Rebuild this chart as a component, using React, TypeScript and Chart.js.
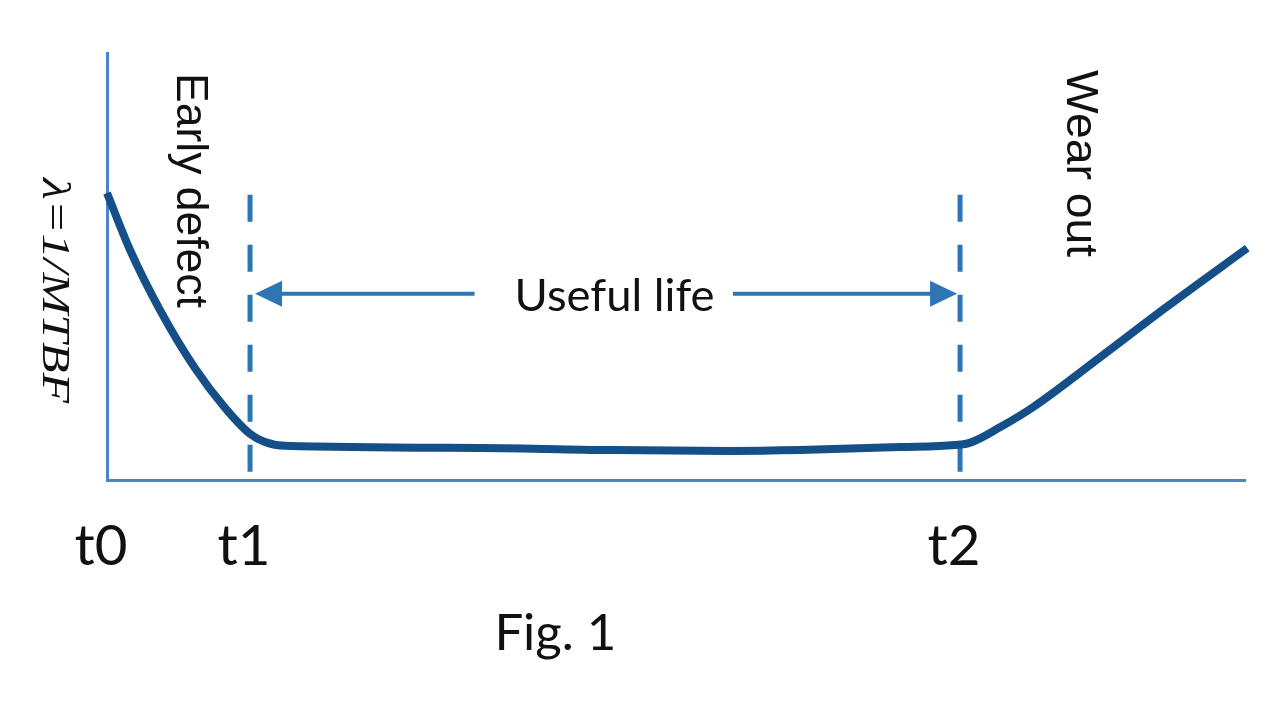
import React, { useEffect, useRef } from "react";
import { Chart, registerables } from "chart.js";

Chart.register(...registerables);

// ---- data ----
const TIME_VALUES = [0, 2.02, 4.66, 7.73, 10.37, 12.57, 13.88, 15.64, 32.8, 44.6, 54.7, 60.9, 69.7, 74.5, 75.8, 78.5, 81.4, 87.3, 93.1, 100.2];
const FAILURE_RATE = [67.2, 53.9, 39.8, 26.2, 16.9, 10.8, 8.9, 8.0, 7.5, 7.0, 6.8, 7.0, 7.7, 8.2, 8.7, 12.4, 17.1, 28.8, 40.5, 54.3];
const PHASE_TIMES = [0, 12.57, 74.96];
const PHASE_LABELS = ["t0", "t1", "t2"];
const DASH_LEVELS = [66.8, 0];
const ARROW_LEVEL = 43.6;
const USEFUL_LABEL = "Useful life";
const USEFUL_LABEL_CENTER = 44.6;
const ARROW_LEFT_END = 32.3;
const ARROW_RIGHT_START = 55.0;
const REGION_LABELS = ["Early defect", "Wear out"];
const REGION_LABEL_TIMES = [6.15, 84.4];
const REGION_LABEL_TOPS = [95.3, 96.0];
const REGION_LABEL_BOTTOMS = [40.3, 52.2];
const Y_LABEL = "λ=1/MTBF";
const Y_LABEL_RANGE = [70.7, 18.0];
const CAPTION = "Fig. 1";

const CURVE_COLOR = "#154f88";
const BLUE = "#2e75b6";
const AXIS_COLOR = "#4a86c6";
const TEXT_COLOR = "#111111";

function fitFont(ctx: CanvasRenderingContext2D, text: string, family: string, width: number, style = "") {
  ctx.font = `${style} 100px ${family}`;
  const w = ctx.measureText(text).width;
  return (100 * width) / w;
}

function drawRotated(ctx: CanvasRenderingContext2D, text: string, font: string, baseX: number, startY: number, length: number) {
  ctx.save();
  ctx.font = font;
  const w = ctx.measureText(text).width;
  ctx.translate(baseX, startY);
  ctx.rotate(Math.PI / 2);
  ctx.scale(length / w, 1);
  ctx.textAlign = "left";
  ctx.textBaseline = "alphabetic";
  ctx.fillStyle = TEXT_COLOR;
  ctx.fillText(text, 0, 0);
  ctx.restore();
}

const annotationPlugin = {
  id: "bathtubAnnotations",
  afterDatasetsDraw(chart: any) {
    const { ctx, chartArea } = chart;
    const xs = chart.scales.x;
    const ys = chart.scales.y;
    ctx.save();

    // Useful life arrow
    const ay = ys.getPixelForValue(ARROW_LEVEL);
    const xl = xs.getPixelForValue(PHASE_TIMES[1]) + 5;
    const xr = xs.getPixelForValue(PHASE_TIMES[2]) - 3;
    const headLen = 27;
    const headHalf = 13;
    ctx.strokeStyle = BLUE;
    ctx.fillStyle = BLUE;
    ctx.lineWidth = 4;
    ctx.beginPath();
    ctx.moveTo(xl + headLen - 2, ay);
    ctx.lineTo(xs.getPixelForValue(ARROW_LEFT_END), ay);
    ctx.moveTo(xs.getPixelForValue(ARROW_RIGHT_START), ay);
    ctx.lineTo(xr - headLen + 2, ay);
    ctx.stroke();
    ctx.beginPath();
    ctx.moveTo(xl, ay);
    ctx.lineTo(xl + headLen, ay - headHalf);
    ctx.lineTo(xl + headLen, ay + headHalf);
    ctx.closePath();
    ctx.fill();
    ctx.beginPath();
    ctx.moveTo(xr, ay);
    ctx.lineTo(xr - headLen, ay - headHalf);
    ctx.lineTo(xr - headLen, ay + headHalf);
    ctx.closePath();
    ctx.fill();

    // Useful life label
    ctx.fillStyle = TEXT_COLOR;
    ctx.textAlign = "center";
    ctx.textBaseline = "alphabetic";
    const uSize = fitFont(ctx, USEFUL_LABEL, "Lato", 200);
    ctx.font = `${uSize}px Lato`;
    ctx.fillText(USEFUL_LABEL, xs.getPixelForValue(USEFUL_LABEL_CENTER), ay + 17);

    // phase tick labels
    const tSize = fitFont(ctx, PHASE_LABELS[0], "Lato", 53);
    ctx.font = `${tSize}px Lato`;
    PHASE_LABELS.forEach((lab, i) => {
      ctx.fillText(lab, xs.getPixelForValue(PHASE_TIMES[i]) - 6, chartArea.bottom + 85);
    });

    // caption
    const cSize = fitFont(ctx, CAPTION, "Lato", 122);
    ctx.font = `${cSize}px Lato`;
    ctx.fillText(CAPTION, xs.getPixelForValue(39.4), chartArea.bottom + 170);

    // rotated region labels
    const sizes = [44, 44];
    REGION_LABELS.forEach((lab, i) => {
      const top = ys.getPixelForValue(REGION_LABEL_TOPS[i]);
      const bottom = ys.getPixelForValue(REGION_LABEL_BOTTOMS[i]);
      drawRotated(ctx, lab, `${sizes[i]}px "Liberation Sans"`, xs.getPixelForValue(REGION_LABEL_TIMES[i]), top, bottom - top);
    });

    // y label
    const yTop = ys.getPixelForValue(Y_LABEL_RANGE[0]);
    const yBottom = ys.getPixelForValue(Y_LABEL_RANGE[1]);
    drawRotated(ctx, Y_LABEL, `italic 40px "Liberation Serif"`, chartArea.left - 64, yTop, yBottom - yTop);

    ctx.restore();
  },
};

export default function App() {
  const canvasRef = useRef<HTMLCanvasElement | null>(null);

  useEffect(() => {
    const canvas = canvasRef.current;
    if (!canvas) return;
    const curve = TIME_VALUES.map((t, i) => ({ x: t, y: FAILURE_RATE[i] }));
    const dash1 = DASH_LEVELS.map((v) => ({ x: PHASE_TIMES[1], y: v }));
    const dash2 = DASH_LEVELS.map((v) => ({ x: PHASE_TIMES[2], y: v }));
    const dashStyle = {
      borderColor: BLUE,
      borderWidth: 5,
      borderDash: [27, 23],
      borderCapStyle: "butt" as const,
      pointRadius: 0,
      fill: false,
      order: 2,
      clip: false as any,
    };
    const chart = new Chart(canvas, {
      type: "line",
      data: {
        datasets: [
          {
            data: curve,
            borderColor: CURVE_COLOR,
            borderWidth: 8,
            pointRadius: 0,
            cubicInterpolationMode: "monotone",
            borderCapStyle: "butt",
            borderJoinStyle: "round",
            fill: false,
            order: 0,
            clip: false as any,
          },
          { data: dash1, ...dashStyle },
          { data: dash2, ...dashStyle },
        ],
      },
      options: {
        responsive: false,
        animation: false,
        events: [],
        layout: { padding: { left: 107, top: 53, right: 35, bottom: 241 } },
        plugins: { legend: { display: false }, tooltip: { enabled: false }, title: { display: false } },
        scales: {
          x: {
            type: "linear",
            min: 0,
            max: 100,
            grid: { display: false, drawTicks: false },
            ticks: { display: false },
            border: { display: true, color: AXIS_COLOR, width: 3 },
          },
          y: {
            type: "linear",
            min: 0,
            max: 100,
            grid: { display: false, drawTicks: false },
            ticks: { display: false },
            border: { display: true, color: AXIS_COLOR, width: 3 },
          },
        },
      },
      plugins: [annotationPlugin],
    });
    return () => chart.destroy();
  }, []);

  return (
    <div style={{ position: "absolute", left: 0, top: 0, width: 1280, height: 721, background: "#fff" }}>
      <canvas ref={canvasRef} width={1280} height={721} />
    </div>
  );
}
